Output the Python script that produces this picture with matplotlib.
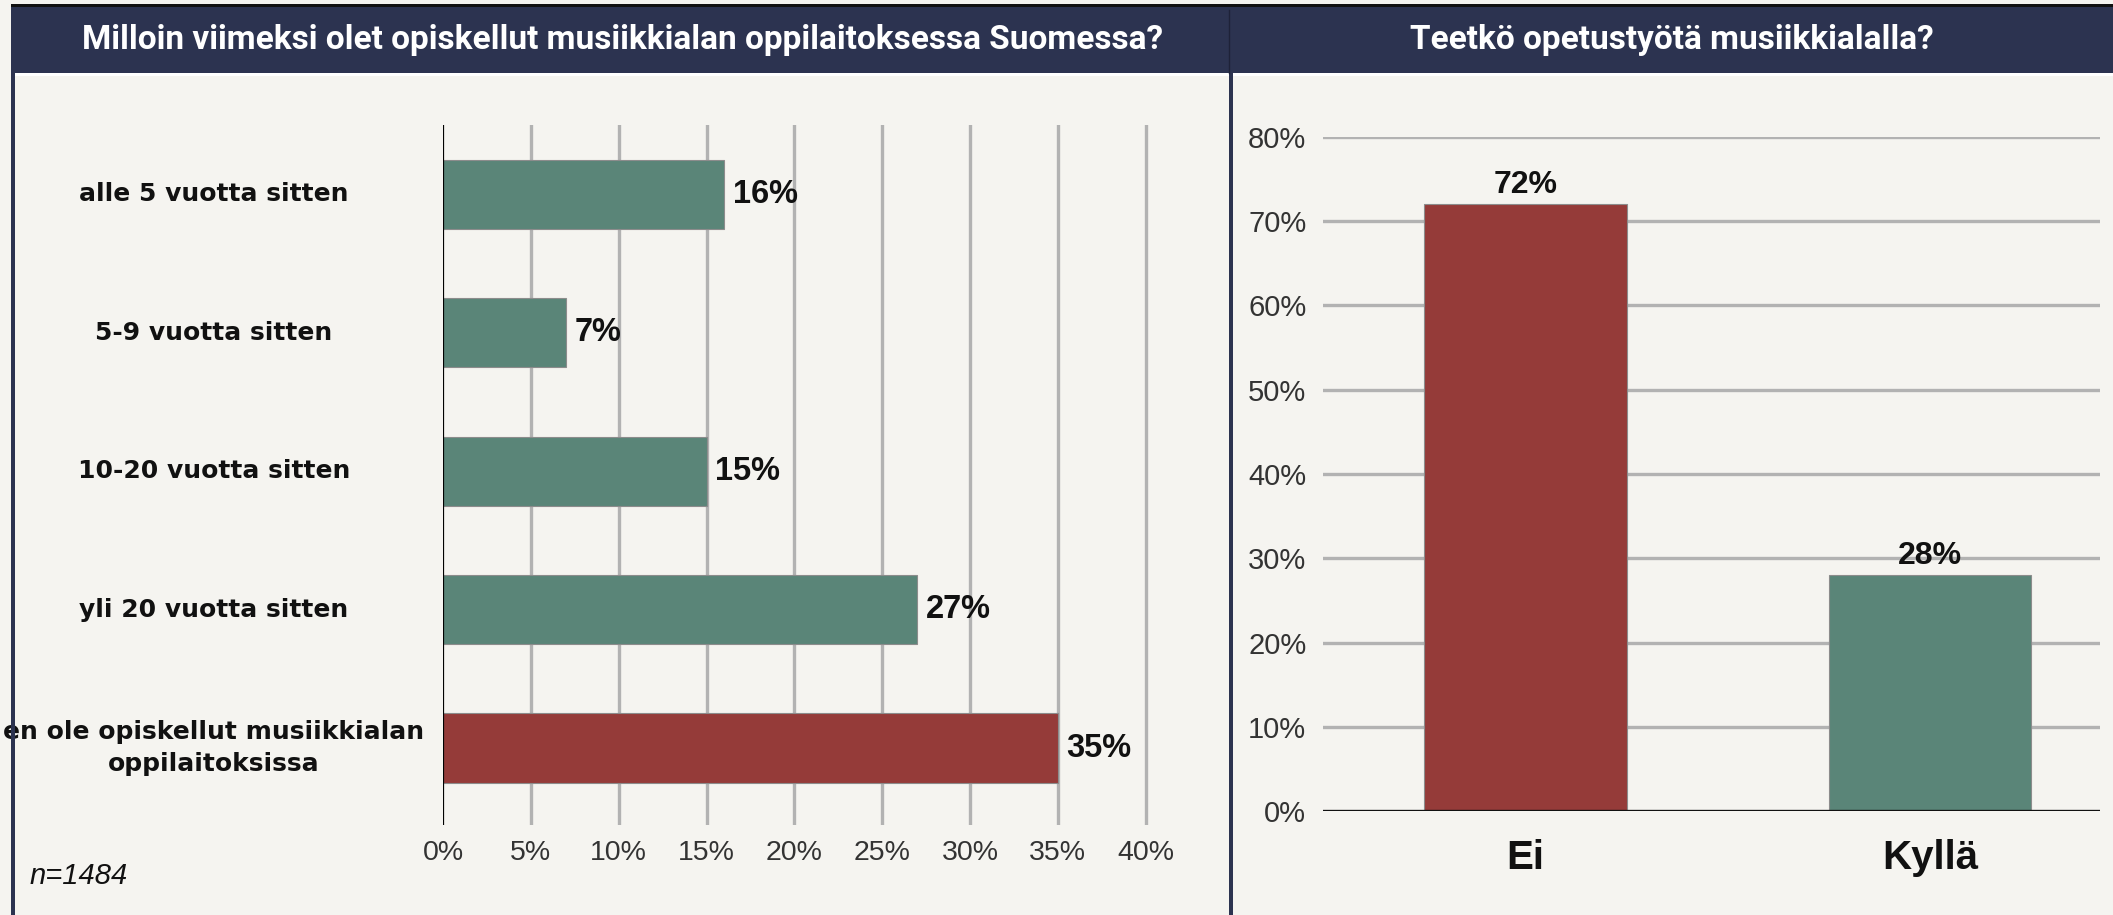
import numpy as np
import matplotlib.pyplot as plt
import matplotlib.transforms as mtransforms
from matplotlib.patches import Rectangle
from matplotlib.lines import Line2D

# Data: left chart (when last studied)
left_title = 'Milloin viimeksi olet opiskellut musiikkialan oppilaitoksessa Suomessa?'
left_categories = ['alle 5 vuotta sitten', '5-9 vuotta sitten', '10-20 vuotta sitten',
                   'yli 20 vuotta sitten', 'en ole opiskellut musiikkialan\noppilaitoksissa']
left_values = [16, 7, 15, 27, 35]
left_ticks = [0, 5, 10, 15, 20, 25, 30, 35, 40]
left_note = 'n=1484'

# Data: right chart (teaching work)
right_title = 'Teetkö opetustyötä musiikkialalla?'
right_categories = ['Ei', 'Kyllä']
right_values = [72, 28]
right_ticks = [0, 10, 20, 30, 40, 50, 60, 70, 80]

# Colours
bg = '#f5f4f0'
navy = '#2c3350'
teal = '#5a8578'
red = '#953b39'
grid_col = '#b2b2b2'
left_colors = [teal, teal, teal, teal, red]
right_colors = [red, teal]

W, H = 2113, 915
fig = plt.figure(figsize=(W / 100, H / 100), dpi=100, facecolor=bg)


def fx(px):
    return px / W


def fy(py):
    return 1 - py / H


# Frame: header band, borders
fig.add_artist(Rectangle((fx(11), fy(73)), fx(W - 11), 66 / H, transform=fig.transFigure,
                         facecolor=navy, edgecolor='none', zorder=0))
fig.add_artist(Rectangle((fx(11), fy(7)), fx(W - 11), 3 / H, transform=fig.transFigure,
                         facecolor='#111111', edgecolor='none', zorder=0))
fig.add_artist(Rectangle((fx(15), fy(76)), fx(W - 15), 3 / H, transform=fig.transFigure,
                         facecolor='white', edgecolor='none', zorder=0))
fig.add_artist(Rectangle((fx(11), 0), fx(4), fy(73), transform=fig.transFigure,
                         facecolor=navy, edgecolor='none', zorder=1))
fig.add_artist(Rectangle((fx(1229), 0), fx(4), fy(73), transform=fig.transFigure,
                         facecolor=navy, edgecolor='none', zorder=1))
fig.add_artist(Line2D([fx(1229), fx(1229)], [fy(73), fy(10)], transform=fig.transFigure,
                      color='#1e2238', lw=1))

title_font = dict(family='Roboto', weight='bold', size=24, color='white')
fig.text(fx(623), fy(40), left_title, ha='center', va='center', **title_font)
fig.text(fx(1672), fy(40), right_title, ha='center', va='center', **title_font)

# ---- Left chart ----
ax1 = fig.add_axes([fx(443), fy(825), fx(1151 - 443), (825 - 125) / H])
ax1.set_facecolor('none')
y = np.arange(len(left_categories))
ax1.barh(y, left_values, height=0.5, color=left_colors, edgecolor='#8c8c8c', linewidth=0.8, zorder=3)
ax1.set_xlim(0, 40.3)
ax1.set_ylim(4.556, -0.5)
ax1.set_xticks(left_ticks)
ax1.set_xticklabels(['{}%'.format(t) for t in left_ticks], family='Liberation Sans',
                    size=20.5, color='#333333')
ax1.tick_params(axis='x', length=0, pad=11)
ax1.set_yticks([])
for t in left_ticks[1:]:
    ax1.axvline(t, color=grid_col, lw=2.4, zorder=1)
ax1.axvline(0, color='black', lw=1.6, zorder=4)
for s in ax1.spines.values():
    s.set_visible(False)

for yi, v in zip(y, left_values):
    ax1.text(v + 0.5, yi, '{}%'.format(v), va='center', ha='left', family='Liberation Sans',
             weight='bold', size=23.5, color='#111111')

trans = mtransforms.blended_transform_factory(fig.transFigure, ax1.transData)
for yi, lab in zip(y, left_categories):
    ax1.text(fx(214), yi, lab, transform=trans, ha='center', va='center',
             family='DejaVu Sans', weight='bold', size=18, color='#111111', linespacing=1.4)

fig.text(fx(30), fy(876), left_note, ha='left', va='center', family='Liberation Sans',
         style='italic', size=21, color='#111111')

# ---- Right chart ----
ax2 = fig.add_axes([fx(1323), fy(811), fx(2100 - 1323), (811 - 137) / H])
ax2.set_facecolor('none')
x = np.arange(len(right_categories))
ax2.bar(x, right_values, width=0.5, color=right_colors, edgecolor='#8c8c8c', linewidth=0.8, zorder=3)
ax2.set_xlim(-0.5, 1.42)
ax2.set_ylim(0, 80)
ax2.set_yticks(right_ticks)
ax2.set_yticklabels(['{}%'.format(t) for t in right_ticks], family='Liberation Sans',
                    size=21, color='#333333')
ax2.set_xticks(x)
ax2.set_xticklabels(right_categories, family='Liberation Sans', weight='bold', size=29,
                    color='#111111')
ax2.tick_params(axis='y', length=0, pad=12)
ax2.tick_params(axis='x', length=0, pad=20)
for t in right_ticks[1:]:
    ax2.axhline(t, color=grid_col, lw=2.4, zorder=1)
ax2.axhline(0, color='#111111', lw=2.4, zorder=4)
for s in ax2.spines.values():
    s.set_visible(False)

for xi, v in zip(x, right_values):
    ax2.text(xi, v + 0.5, '{}%'.format(v), ha='center', va='bottom', family='Liberation Sans',
             weight='bold', size=23, color='#111111', zorder=5)

fig.savefig('out.png', dpi=100, facecolor=bg)
